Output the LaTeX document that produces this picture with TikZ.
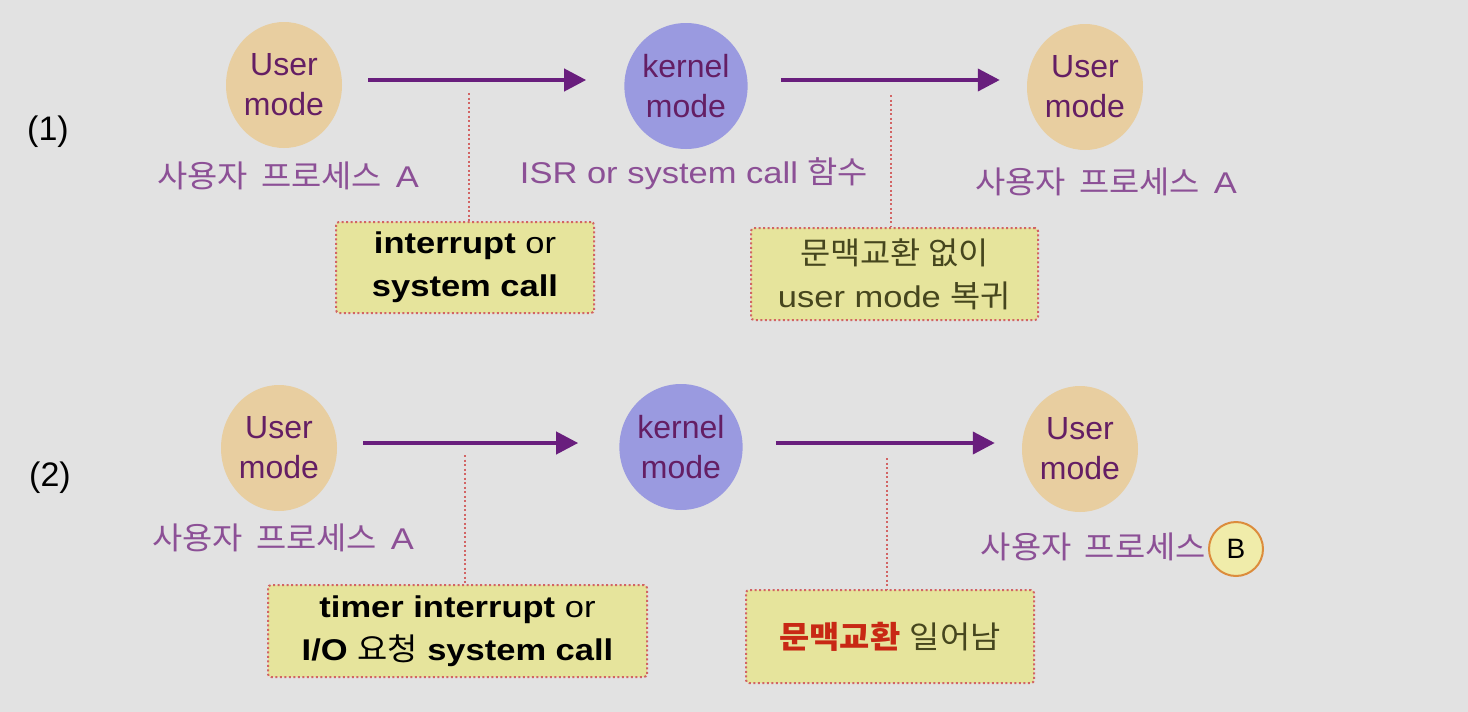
\documentclass[tikz,border=0pt]{standalone}
\usepackage{fontspec}
\setmainfont{Liberation Sans}
\newfontfamily\wide{Liberation Sans}[FakeStretch=1.15]
\newfontfamily\kor{Noto Sans CJK KR}[FakeStretch=1.06]
\usetikzlibrary{shapes.geometric,arrows.meta}
\definecolor{bgc}{RGB}{226,226,226}
\definecolor{userfill}{RGB}{232,206,160}
\definecolor{kernfill}{RGB}{154,154,224}
\definecolor{circtext}{RGB}{100,30,100}
\definecolor{labtext}{RGB}{140,80,150}
\definecolor{arrc}{RGB}{105,30,125}
\definecolor{boxfill}{RGB}{230,228,156}
\definecolor{boxline}{RGB}{210,100,100}
\definecolor{olive}{RGB}{70,70,30}
\definecolor{redtxt}{RGB}{200,40,20}
\definecolor{bfill}{RGB}{240,236,170}
\definecolor{bline}{RGB}{220,140,60}
\newcommand\krtxt[1]{{\kor\fontsize{31}{40}\selectfont #1}}
\tikzset{
  modecirc/.style={ellipse, minimum width=116pt, minimum height=126pt, inner sep=0pt,
     align=center, text=circtext, font=\fontsize{32}{40}\selectfont},
  umode/.style={modecirc, fill=userfill},
  kmode/.style={modecirc, fill=kernfill},
  lab/.style={text=labtext, font=\wide\fontsize{30}{36}\selectfont, inner sep=0pt},
  arr/.style={draw=arrc, line width=4pt, -{Triangle[length=22pt,width=22pt]}},
  dotline/.style={draw=boxline, line width=2pt, dash pattern=on 2pt off 2.5pt},
  notebox/.style={fill=boxfill, draw=boxline, line width=2pt, dash pattern=on 2pt off 2.5pt,
     rounded corners=3pt, align=center, inner sep=0pt, font=\wide\fontsize{30}{43}\selectfont},
  paren/.style={font=\fontsize{34}{40}\selectfont, text=black, inner sep=0pt},
  bcirc/.style={circle, minimum size=54pt, inner sep=0pt, fill=bfill, draw=bline, line width=2pt,
     font=\fontsize{28}{34}\selectfont, text=black}
}
\begin{document}
\begin{tikzpicture}[x=1pt,y=-1pt]
\useasboundingbox (0,0) rectangle (1468,712);
\fill[bgc] (0,0) rectangle (1468,712);

% row 1
\node[paren] (p1) at (48,132) {(1)};
\node[umode] (u1) at (284,85) {User\\mode};
\node[kmode] (k1) at (686,86) {kernel\\mode};
\node[umode] (u2) at (1085,87) {User\\mode};
\coordinate (a1s) at ([xshift=26pt,yshift=5pt]u1.east);
\coordinate (a1e) at ([xshift=-38pt]k1.west);
\coordinate (a2s) at ([xshift=33pt,yshift=6pt]k1.east);
\coordinate (a2e) at ([xshift=-27pt]u2.west);
\draw[arr] (a1s) -- (a1s -| a1e);
\draw[arr] (a2s) -- (a2s -| a2e);
\node[lab] (l1) at (288,176) {\krtxt{사용자\hspace{6pt} 프로세스}\hspace{4pt} A};
\node[lab] (l2) at (694,174) {ISR or system call \krtxt{함수}};
\node[lab] (l3) at (1106,182) {\krtxt{사용자\hspace{6pt} 프로세스}\hspace{4pt} A};
\node[notebox, minimum width=258pt, minimum height=91pt] (b1) at (465,267.5)
  {\textbf{interrupt} or\\\textbf{system call}};
\node[notebox, minimum width=287pt, minimum height=92pt, text=olive] (b2) at (894.5,274)
  {\krtxt{문맥교환 없이}\\user mode \krtxt{복귀}};
\coordinate (d1) at (469,93);
\coordinate (d2) at (891,95);
\draw[dotline] (d1) -- (d1 |- b1.north);
\draw[dotline] (d2) -- (d2 |- b2.north);

% row 2
\node[paren] (p2) at (50,478) {(2)};
\node[umode] (u3) at (279,448) {User\\mode};
\node[kmode] (k2) at (681,447) {kernel\\mode};
\node[umode] (u4) at (1080,449) {User\\mode};
\coordinate (a3s) at ([xshift=26pt,yshift=5pt]u3.east);
\coordinate (a3e) at ([xshift=-41pt]k2.west);
\coordinate (a4s) at ([xshift=33pt,yshift=4pt]k2.east);
\coordinate (a4e) at ([xshift=-27pt]u4.west);
\draw[arr] (a3s) -- (a3s -| a3e);
\draw[arr] (a4s) -- (a4s -| a4e);
\node[lab] (l4) at (283,538) {\krtxt{사용자\hspace{6pt} 프로세스}\hspace{4pt} A};
\node[lab, anchor=east] (l5) at (1206,547) {\krtxt{사용자\hspace{6pt} 프로세스}};
\node[bcirc] (bc) at (1236,549) {B};
\node[notebox, minimum width=379pt, minimum height=92pt] (b3) at (457.5,631)
  {\textbf{timer interrupt} or\\\textbf{I/O} \krtxt{요청} \textbf{system call}};
\node[notebox, minimum width=288pt, minimum height=93pt, text=olive] (b4) at (890,636.5)
  {\krtxt{\bfseries\color{redtxt}문맥교환} \krtxt{일어남}};
\coordinate (d3) at (465,455);
\coordinate (d4) at (887,458);
\draw[dotline] (d3) -- (d3 |- b3.north);
\draw[dotline] (d4) -- (d4 |- b4.north);
\end{tikzpicture}
\end{document}
